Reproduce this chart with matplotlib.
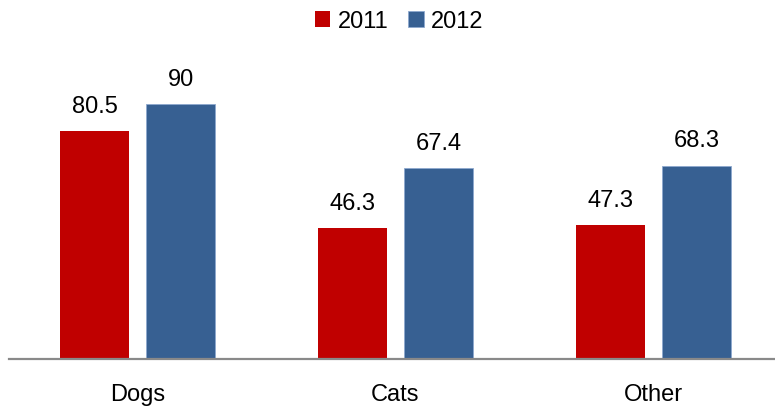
import matplotlib
matplotlib.use("Agg")
import matplotlib.pyplot as plt
import numpy as np

categories = ["Dogs", "Cats", "Other"]
years = ["2011", "2012"]
values_2011 = [80.5, 46.3, 47.3]
values_2012 = [90, 67.4, 68.3]
labels_2011 = ["80.5", "46.3", "47.3"]
labels_2012 = ["90", "67.4", "68.3"]

plt.rcParams["font.family"] = ["Liberation Sans", "DejaVu Sans"]

W, H = 775, 409
fig = plt.figure(figsize=(W / 100, H / 100), dpi=100)
# axes from x=8.5px spanning 3 groups of 258px, baseline at y=359px
ax = fig.add_axes([8.5 / W, (H - 359) / H, 774 / W, 359 / H])

x = np.arange(len(categories))
width = 0.267
offset = 0.1667
bars1 = ax.bar(x - offset, values_2011, width, color="#C00000", label=years[0])
bars2 = ax.bar(x + offset, values_2012, width, color="#376092", edgecolor="#8EA9CF",
               linewidth=0.6, label=years[1])

for bars, labs in [(bars1, labels_2011), (bars2, labels_2012)]:
    for b, lab in zip(bars, labs):
        ax.annotate(lab, (b.get_x() + b.get_width() / 2, b.get_height()),
                    xytext=(0, 9.5), textcoords="offset points",
                    ha="center", va="bottom", fontsize=17)

ax.set_xlim(-0.5, 2.5)
ax.set_ylim(0, 359 / 2.833)
ax.set_xticks(x)
ax.set_xticklabels(categories, fontsize=17)
ax.tick_params(axis="x", length=0, pad=18)
ax.set_yticks([])
for s in ["top", "right", "left"]:
    ax.spines[s].set_visible(False)
ax.spines["bottom"].set_color("#898989")
ax.spines["bottom"].set_linewidth(1.6)

leg = fig.legend(loc="upper center", bbox_to_anchor=(0.515, 1.0), ncol=2, frameon=False,
                 fontsize=17, handlelength=0.65, handleheight=0.65, handletextpad=0.3,
                 columnspacing=0.85, borderaxespad=0.05)

fig.savefig("out.png", dpi=100)
